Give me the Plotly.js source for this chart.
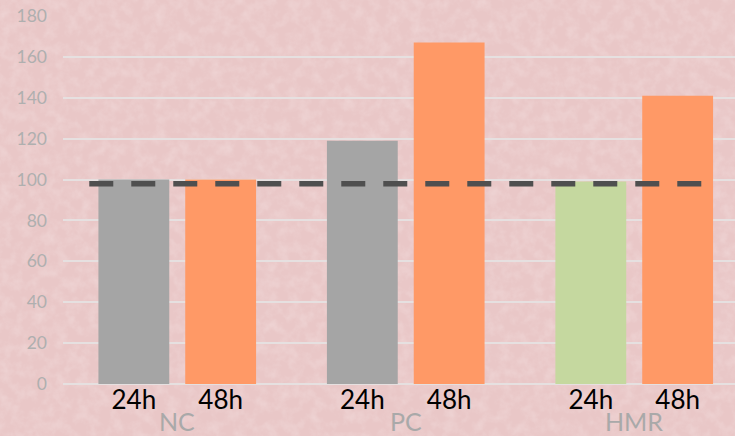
<!DOCTYPE html>
<html>
<head>
<meta charset="utf-8">
<script src="https://cdn.plot.ly/plotly-3.0.1.min.js"></script>
<style>
  html, body { margin: 0; padding: 0; overflow: hidden; }
  body {
    background-color: #e9c7c7;
    background-image: url("data:image/svg+xml;utf8,<svg xmlns='http://www.w3.org/2000/svg' width='735' height='436'><filter id='n'><feTurbulence type='fractalNoise' baseFrequency='0.09' numOctaves='3' seed='3'/><feColorMatrix type='matrix' values='0 0 0 0 1  0 0 0 0 0.96  0 0 0 0 0.96  0 0 0 1.2 -0.45'/></filter><rect width='100%' height='100%' filter='url(%23n)' opacity='0.35'/></svg>");
  }
  #chart { width: 735px; height: 436px; }
</style>
</head>
<body>
<div id="chart"></div>
<script>
// ---- data ----
const groups = ['NC', 'PC', 'HMR'];
const times = ['24h', '48h'];
const values24h = [100, 119, 99];
const values48h = [100, 167, 141];
const colors24h = ['#a5a5a5', '#a5a5a5', '#c5d89f'];
const colors48h = ['#ff9966', '#ff9966', '#ff9966'];
const referenceValue = 98;
const yTicks = [0, 20, 40, 60, 80, 100, 120, 140, 160, 180];

// ---- layout helpers ----
const offset = 0.19;      // half distance between the two bars of a group
const barWidth = 0.31;
const gIdx = groups.map((g, i) => i);
const x24 = gIdx.map(i => i - offset);
const x48 = gIdx.map(i => i + offset);

const traces = [
  { type: 'bar', x: x24, y: values24h, width: barWidth,
    marker: { color: colors24h, line: { width: 0 } }, hoverinfo: 'skip', showlegend: false },
  { type: 'bar', x: x48, y: values48h, width: barWidth,
    marker: { color: colors48h, line: { width: 0 } }, hoverinfo: 'skip', showlegend: false }
];

const tickvals = [], ticktext = [];
gIdx.forEach(i => {
  tickvals.push(x24[i]); ticktext.push(times[0]);
  tickvals.push(x48[i]); ticktext.push(times[1]);
});

const annotations = groups.map((g, i) => ({
  x: i, xref: 'x', y: 0, yref: 'paper', yanchor: 'top',
  yshift: -21, borderpad: 0, text: g, showarrow: false,
  font: { family: 'Lato, sans-serif', size: 25, color: '#a9a9a9' }
}));

const layout = {
  width: 735, height: 436,
  margin: { l: 63, r: 0, t: 16, b: 52 },
  paper_bgcolor: 'rgba(0,0,0,0)',
  plot_bgcolor: 'rgba(0,0,0,0)',
  barmode: 'overlay',
  xaxis: {
    range: [-0.5, 2.441], tickvals: tickvals, ticktext: ticktext,
    showgrid: false, zeroline: false, showline: false, ticks: '',
    tickfont: { family: 'Lato, sans-serif', size: 26, color: '#000000' },
    ticklabelstandoff: -2
  },
  yaxis: {
    range: [0, 180], tickvals: yTicks,
    showgrid: true, gridcolor: '#e6e0e0', gridwidth: 2,
    zeroline: true, zerolinecolor: '#e6e0e0', zerolinewidth: 2,
    ticks: '', ticklabelstandoff: 15,
    tickfont: { family: 'Lato, sans-serif', size: 17.5, color: '#afafaf' }
  },
  shapes: [{
    type: 'line', xref: 'x', yref: 'y',
    x0: -0.385, x1: 2.33, y0: referenceValue, y1: referenceValue,
    line: { color: '#4f4f4f', width: 5.5, dash: '24px,18px' }
  }],
  annotations: annotations
};

Plotly.newPlot('chart', traces, layout, { staticPlot: true, displayModeBar: false });
</script>
</body>
</html>
